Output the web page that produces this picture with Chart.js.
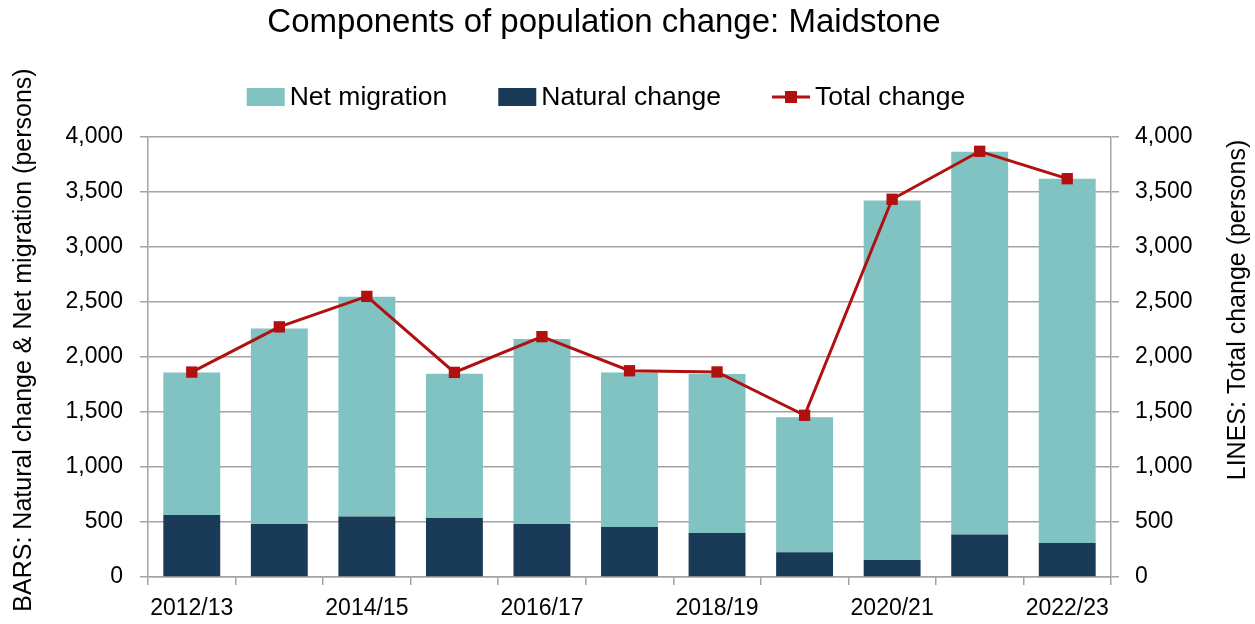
<!DOCTYPE html>
<html>
<head>
<meta charset="utf-8">
<title>Components of population change: Maidstone</title>
<script src="https://cdn.jsdelivr.net/npm/chart.js@4"></script>
<style>
  body { margin: 0; background: #fff; overflow: hidden; }
</style>
</head>
<body>
<canvas id="chart" width="1255" height="624"></canvas>
<script>
const years = ["2012/13", "2013/14", "2014/15", "2015/16", "2016/17", "2017/18",
  "2018/19", "2019/20", "2020/21", "2021/22", "2022/23"];
const naturalChange = [564, 482, 549, 537, 482, 454, 399, 226, 155, 387, 308];
const netMigration = [1296, 1777, 1999, 1311, 1682, 1406, 1447, 1226, 3267, 3480, 3313];
const totalChange = [1863, 2274, 2551, 1860, 2185, 1875, 1864, 1470, 3434, 3870, 3621];
const yMin = 0, yMax = 4000, yStep = 500;

const chartTitle = "Components of population change: Maidstone";
const leftTitle = "BARS: Natural change & Net migration (persons)";
const rightTitle = "LINES: Total change (persons)";
const legendOrder = [1, 0, 2]; // Net migration, Natural change, Total change

const FONT = '"Liberation Sans", Arial, sans-serif';
const gridGrey = "#a3a3a3";

// title, legend and axis titles drawn by hand (Excel-like placement)
const extras = {
  id: "extras",
  afterDraw(chart) {
    const ctx = chart.ctx;
    ctx.save();
    ctx.fillStyle = "#000";

    ctx.font = `33px ${FONT}`;
    ctx.textAlign = "center";
    ctx.textBaseline = "alphabetic";
    ctx.fillText(chartTitle, 604, 32);

    ctx.font = `25px ${FONT}`;
    ctx.save();
    ctx.translate(31, 340);
    ctx.rotate(-Math.PI / 2);
    ctx.fillText(leftTitle, 0, 0);
    ctx.restore();
    ctx.save();
    ctx.translate(1245, 310);
    ctx.rotate(-Math.PI / 2);
    ctx.fillText(rightTitle, 0, 0);
    ctx.restore();

    // legend
    ctx.font = `26.5px ${FONT}`;
    const items = legendOrder.map(i => chart.data.datasets[i]);
    const widths = items.map(d => 38 + 5 + ctx.measureText(d.label).width);
    const total = widths.reduce((a, b) => a + b, 0) + 51 * (items.length - 1);
    let x = 606 - total / 2;
    const y = 97;
    items.forEach((d, k) => {
      if (d.type === "line") {
        ctx.strokeStyle = d.borderColor;
        ctx.lineWidth = 3;
        ctx.beginPath();
        ctx.moveTo(x, y);
        ctx.lineTo(x + 38, y);
        ctx.stroke();
        ctx.fillStyle = d.borderColor;
        ctx.fillRect(x + 13, y - 6, 12, 12);
      } else {
        ctx.fillStyle = d.backgroundColor;
        ctx.fillRect(x, y - 9, 38, 18);
      }
      ctx.fillStyle = "#000";
      ctx.textAlign = "left";
      ctx.textBaseline = "middle";
      ctx.fillText(d.label, x + 43, y + 1);
      x += widths[k] + 51;
    });
    ctx.restore();
  }
};

new Chart(document.getElementById("chart"), {
  type: "bar",
  data: {
    labels: years,
    datasets: [
      {
        label: "Natural change",
        data: naturalChange,
        backgroundColor: "#1a3b57",
        yAxisID: "y",
        order: 1,
        barPercentage: 0.65,
        categoryPercentage: 1
      },
      {
        label: "Net migration",
        data: netMigration,
        backgroundColor: "#81c2c2",
        yAxisID: "y",
        order: 1,
        barPercentage: 0.65,
        categoryPercentage: 1
      },
      {
        type: "line",
        label: "Total change",
        data: totalChange,
        borderColor: "#b0100f",
        backgroundColor: "#b0100f",
        borderWidth: 3,
        pointStyle: "rect",
        pointRadius: 8,
        pointBorderWidth: 0,
        pointBackgroundColor: "#b0100f",
        tension: 0,
        yAxisID: "y2",
        order: 0
      }
    ]
  },
  options: {
    responsive: false,
    animation: false,
    layout: { padding: { top: 137, bottom: 0, left: 0, right: 0 } },
    plugins: {
      legend: { display: false },
      title: { display: false },
      tooltip: { enabled: false }
    },
    scales: {
      x: {
        stacked: true,
        afterFit: s => { s.height = 47; },
        grid: {
          offset: true,
          drawOnChartArea: false,
          tickLength: 8,
          color: gridGrey,
          lineWidth: 1.5
        },
        border: { display: true, color: gridGrey, width: 1.5 },
        ticks: {
          autoSkip: false,
          maxRotation: 0,
          padding: 10,
          color: "#000",
          font: { family: FONT, size: 23 },
          callback: (v, i) => (i % 2 === 0 ? years[i] : "")
        }
      },
      y: {
        stacked: true,
        position: "left",
        min: yMin,
        max: yMax,
        afterFit: s => { s.width = 148; },
        grid: { color: gridGrey, lineWidth: 1.5, tickLength: 8 },
        border: { display: true, color: gridGrey, width: 1.5 },
        ticks: {
          stepSize: yStep,
          padding: 17,
          color: "#000",
          font: { family: FONT, size: 23 },
          callback: v => v.toLocaleString("en-GB")
        }
      },
      y2: {
        position: "right",
        min: yMin,
        max: yMax,
        afterFit: s => { s.width = 144; },
        grid: { drawOnChartArea: false, color: gridGrey, lineWidth: 1.5, tickLength: 8 },
        border: { display: true, color: gridGrey, width: 1.5 },
        ticks: {
          stepSize: yStep,
          padding: 16,
          color: "#000",
          font: { family: FONT, size: 23 },
          callback: v => v.toLocaleString("en-GB")
        }
      }
    }
  },
  plugins: [extras]
});
</script>
</body>
</html>
